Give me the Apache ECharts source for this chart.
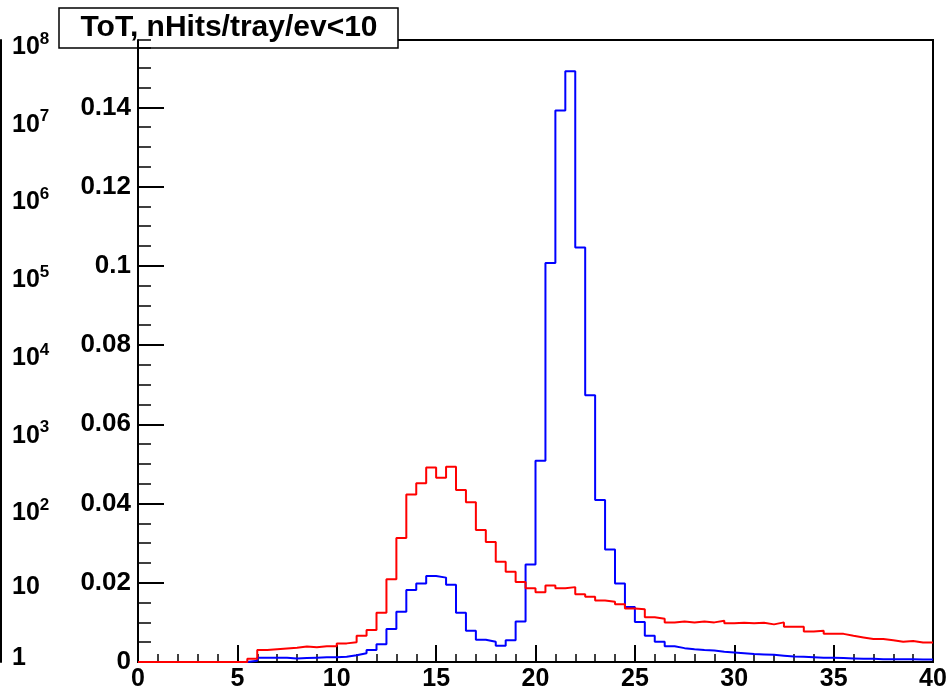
<!DOCTYPE html>
<html>
<head>
<meta charset="utf-8">
<script src="https://cdn.jsdelivr.net/npm/echarts@6/dist/echarts.min.js"></script>
<style>
html,body{margin:0;padding:0;background:#fff;}
#chart{width:952px;height:692px;}
</style>
</head>
<body>
<div id="chart"></div>
<script>
// ---- data ----
const binWidth = 0.5;
const xMin = 0, xMax = 40;
const titleText = 'ToT, nHits/tray/ev<10';
const xTickLabels = ['0','5','10','15','20','25','30','35','40'];
const yTickLabels = ['0','0.02','0.04','0.06','0.08','0.1','0.12','0.14'];
const logLabelBase = ['1','10','10','10','10','10','10','10','10'];
const logLabelExp  = ['','','2','3','4','5','6','7','8'];

const redValues = [
  0,0,0,0,0,0,0,0,0,0,0,
  0.0008,0.0030,0.0032,0.0034,0.0036,0.0039,0.0037,0.0040,0.0040,
  0.0047,0.0050,0.0066,0.0081,0.0124,0.0209,0.0313,0.0423,0.0451,0.0491,
  0.0465,0.0493,0.0434,0.0403,0.0333,0.0303,0.0253,0.0228,0.0202,0.0186,
  0.0176,0.0193,0.0186,0.0189,0.0171,0.0165,0.0155,0.0152,0.0146,0.0135,
  0.0133,0.0113,0.0109,0.0100,0.0102,0.0100,0.0102,0.0100,0.0104,0.0098,
  0.0099,0.0098,0.0099,0.0095,0.0100,0.0089,0.0089,0.0077,0.0079,0.0071,
  0.0071,0.0066,0.0062,0.0058,0.0058,0.0055,0.0051,0.0053,0.0049,0.0049
];
const blueValues = [
  0,0,0,0,0,0,0,0,0,0,0,
  0.0003,0.0011,0.0011,0.0011,0.0009,0.0010,0.0011,0.0012,0.0012,
  0.0013,0.0017,0.0022,0.0030,0.0045,0.0083,0.0127,0.0182,0.0198,0.0217,
  0.0213,0.0195,0.0124,0.0079,0.0056,0.0051,0.0041,0.0055,0.0102,0.0246,
  0.0508,0.1007,0.1392,0.1491,0.1046,0.0673,0.0409,0.0284,0.0198,0.0139,
  0.0101,0.0066,0.0051,0.0040,0.0035,0.0032,0.0030,0.0029,0.0026,0.0024,
  0.0022,0.0020,0.0019,0.0018,0.0016,0.0014,0.0013,0.0012,0.0011,0.0011,
  0.0010,0.0009,0.0008,0.0008,0.0007,0.0007,0.0007,0.0007,0.0006,0.0006
];

function histPoints(vals){
  const pts = vals.map((v,i)=>[xMin + i*binWidth, v]);
  pts.push([xMin + vals.length*binWidth, vals[vals.length-1]]);
  return pts;
}

const FONT = 'Liberation Sans, Arial, Helvetica, sans-serif';
const chart = echarts.init(document.getElementById('chart'), null, {renderer:'canvas'});

const option = {
  animation: false,
  backgroundColor: '#fff',
  grid: {left:138, right:19, top:40, bottom:30, show:true, borderColor:'#000', borderWidth:2, backgroundColor:'transparent'},
  xAxis: [{
    type:'value', min:xMin, max:xMax, interval:5,
    axisLine:{show:true, lineStyle:{color:'#000', width:2}},
    axisTick:{show:true, inside:true, length:17, lineStyle:{color:'#000', width:2}},
    minorTick:{show:true, splitNumber:5, length:8, lineStyle:{color:'#000', width:1.5}},
    splitLine:{show:false},
    axisLabel:{color:'#000', fontSize:25, fontWeight:'bold', fontFamily:FONT, margin:5,
      formatter:(v)=>xTickLabels[Math.round(v/5)] ?? ''}
  }],
  yAxis: [{
    type:'value', min:0, max:0.157, interval:0.02, position:'left',
    axisLine:{show:true, lineStyle:{color:'#000', width:2}},
    axisTick:{show:true, inside:true, length:26, lineStyle:{color:'#000', width:2}},
    splitLine:{show:false},
    axisLabel:{color:'#000', fontSize:26, fontWeight:'bold', fontFamily:FONT, margin:7, showMaxLabel:false,
      formatter:(v)=>{const i=Math.round(v/0.02); return Math.abs(v-i*0.02)<1e-9 ? (yTickLabels[i]??'') : '';}}
  },{
    type:'value', min:0, max:0.157, interval:0.005, position:'left',
    axisLine:{show:false},
    axisTick:{show:true, inside:true, length:13, lineStyle:{color:'#000', width:1.5}},
    splitLine:{show:false},
    axisLabel:{show:false}
  },{
    type:'log', logBase:10, min:1, max:1e8, splitNumber:8, position:'left', offset:137,
    axisLine:{show:true, lineStyle:{color:'#000', width:2}},
    axisTick:{show:false},
    splitLine:{show:false},
    axisLabel:{inside:true, margin:11, color:'#000', fontFamily:FONT, fontWeight:'bold', fontSize:25,
      showMinLabel:true, showMaxLabel:true,
      formatter:(v)=>{
        const e = Math.round(Math.log10(v));
        if (e===0) return '{one|'+logLabelBase[e]+'}';
        if (e===1) return '{ten|'+logLabelBase[e]+'}';
        return '{b|'+logLabelBase[e]+'}{s|'+logLabelExp[e]+'}';
      },
      rich:{
        one:{fontSize:25, fontWeight:'bold', fontFamily:FONT, color:'#000', lineHeight:25, padding:[0,0,8,0]},
        ten:{fontSize:25, fontWeight:'bold', fontFamily:FONT, color:'#000', lineHeight:25, padding:[6,0,0,0]},
        b:{fontSize:25, fontWeight:'bold', fontFamily:FONT, color:'#000', lineHeight:25, padding:[14,0,0,0]},
        s:{fontSize:17, fontWeight:'bold', fontFamily:FONT, color:'#000', lineHeight:17, padding:[0,0,2,0]}
      }
    }
  }],
  graphic: [{
    type:'group', z:100, children:[
      {type:'rect', shape:{x:59, y:8, width:339, height:40}, style:{fill:'#fff', stroke:'#000', lineWidth:1.5}},
      {type:'text', x:229, y:28, style:{text:titleText, font:'bold 30px '+FONT, fill:'#000', textAlign:'center', textVerticalAlign:'middle'}}
    ]
  }],
  series: [{
    name:'blue', type:'line', step:'end', xAxisIndex:0, yAxisIndex:0,
    showSymbol:false, symbol:'none', data:histPoints(blueValues),
    lineStyle:{color:'#0000ff', width:2}, itemStyle:{color:'#0000ff'}, z:3
  },{
    name:'red', type:'line', step:'end', xAxisIndex:0, yAxisIndex:0,
    showSymbol:false, symbol:'none', data:histPoints(redValues),
    lineStyle:{color:'#ff0000', width:2}, itemStyle:{color:'#ff0000'}, z:4
  }]
};
chart.setOption(option);
</script>
</body>
</html>
